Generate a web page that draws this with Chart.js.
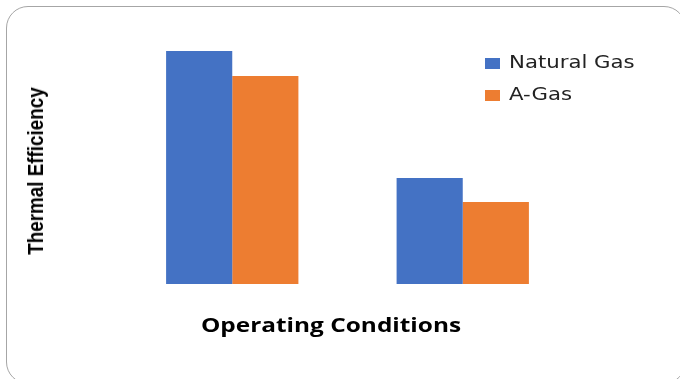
<!DOCTYPE html>
<html>
<head>
<meta charset="utf-8">
<script src="https://cdn.jsdelivr.net/npm/chart.js@4.4.1/dist/chart.umd.min.js"></script>
<style>
  html, body { margin: 0; padding: 0; background: #fff; }
  #wrap { position: relative; width: 680px; height: 379px; overflow: hidden; }
  #frame { position: absolute; left: 6px; top: 6px; width: 680px; height: 378px;
           border: 1px solid #a6a6a6; border-radius: 22px; box-sizing: border-box; }
  #c { position: absolute; left: 0; top: 0; }
  #ytitle { position: absolute; left: 36px; top: 171px; transform: translate(-50%, -50%) rotate(-90deg) scaleX(0.856);
            font-family: "Liberation Sans", sans-serif;
            font-weight: bold; font-size: 22px; color: #000; white-space: nowrap; }
  #xtitle { position: absolute; left: 331px; top: 324px; transform: translate(-50%, -50%) scaleX(1.22);
            font-family: "Open Sans", sans-serif; font-weight: bold; font-size: 20px; color: #000; white-space: nowrap; }
  #legend { position: absolute; left: 485px; top: 50px; font-family: "DejaVu Sans", sans-serif; font-size: 18px; color: #222; }
  .li { position: relative; height: 32px; line-height: 24px; padding-left: 24px; white-space: nowrap; }
  .li .tx { display: inline-block; transform: scaleX(1.18); transform-origin: left center; }
  .sw { position: absolute; left: 0; top: 8px; width: 15px; height: 11px; }
</style>
</head>
<body>
<div id="wrap">
  <div id="frame"></div>
  <canvas id="c" width="680" height="379"></canvas>
  <div id="ytitle"></div>
  <div id="xtitle"></div>
  <div id="legend"></div>
</div>
<script>
const categories = ["Condition 1", "Condition 2"];
const seriesNames = ["Natural Gas", "A-Gas"];
const naturalGas = [99.6, 45.3];
const aGas = [88.9, 35.0];
const seriesColors = ["#4472C4", "#ED7D31"];
const yTitle = "Thermal Efficiency";
const xTitle = "Operating Conditions";

document.getElementById('ytitle').textContent = yTitle;
document.getElementById('xtitle').textContent = xTitle;

const datasets = [naturalGas, aGas].map((d, i) => ({
  label: seriesNames[i],
  data: d,
  backgroundColor: seriesColors[i],
  borderWidth: 0,
  barPercentage: 1,
  categoryPercentage: 0.574
}));

const leg = document.getElementById('legend');
datasets.forEach(ds => {
  const li = document.createElement('div'); li.className = 'li';
  const sw = document.createElement('span'); sw.className = 'sw'; sw.style.background = ds.backgroundColor;
  const tx = document.createElement('span'); tx.className = 'tx'; tx.textContent = ds.label;
  li.appendChild(sw); li.appendChild(tx);
  leg.appendChild(li);
});

new Chart(document.getElementById('c'), {
  type: 'bar',
  data: { labels: categories, datasets },
  options: {
    responsive: false,
    animation: false,
    layout: { padding: { left: 117, right: 102, top: 50, bottom: 95 } },
    plugins: { legend: { display: false }, tooltip: { enabled: false } },
    scales: {
      x: { display: false },
      y: { display: false, min: 0, max: 100 }
    }
  }
});
</script>
</body>
</html>
